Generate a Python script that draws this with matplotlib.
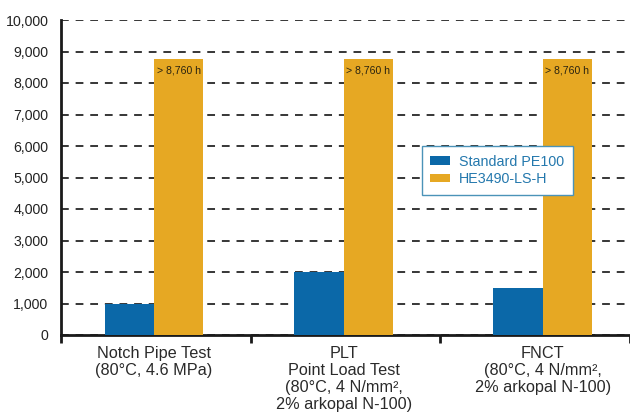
import matplotlib
matplotlib.use("Agg")
import matplotlib.pyplot as plt
import numpy as np
from matplotlib.ticker import FuncFormatter, FixedLocator

categories = ["Notch Pipe Test\n(80°C, 4.6 MPa)",
              "PLT\nPoint Load Test\n(80°C, 4 N/mm²,\n2% arkopal N-100)",
              "FNCT\n(80°C, 4 N/mm²,\n2% arkopal N-100)"]
series_names = ["Standard PE100", "HE3490-LS-H"]
standard_pe100 = [1000, 2000, 1500]
he3490 = [8760, 8760, 8760]
bar_labels = ["> 8,760 h", "> 8,760 h", "> 8,760 h"]
y_ticks = list(range(0, 10001, 1000))

plt.rcParams['font.family'] = ['Liberation Sans', 'DejaVu Sans']

blue = "#0b68a8"
orange = "#e6a823"

fig = plt.figure(figsize=(6.3, 4.16), dpi=100)
ax = fig.add_axes([61/630, 1-335/416, 569/630, 315/416])

x = np.array([-0.01, 0.99, 2.04])
w = 0.26
ax.bar(x - w/2, standard_pe100, width=w, color=blue, label=series_names[0], zorder=3)
ax.bar(x + w/2, he3490, width=w, color=orange, label=series_names[1], zorder=3)

for xi, v, lab in zip(x + w/2, he3490, bar_labels):
    ax.annotate(lab, (xi, v), xytext=(0, -8), textcoords="offset points",
                ha="center", va="center", fontsize=7.6, color="#2a2310", zorder=4)

ax.set_xlim(-0.5, 2.5)
ax.set_ylim(0, 10000)
ax.set_yticks(y_ticks)
ax.yaxis.set_major_formatter(FuncFormatter(lambda v, p: f"{int(v):,}"))
ax.tick_params(axis="y", length=0, pad=9, labelsize=10.2, labelcolor="#222222")
ax.yaxis.grid(True, color="#262626", linestyle=(0, (4.3, 3.8)), linewidth=1.3, zorder=1)
ax.set_axisbelow(True)

ax.set_xticks(x)
ax.set_xticklabels(categories, fontsize=11.7, color="#2a2a2a", linespacing=1.15, va="top")
ax.tick_params(axis="x", which="major", length=0, pad=8)
ax.xaxis.set_minor_locator(FixedLocator([-0.5, 0.5, 1.5, 2.5]))
ax.tick_params(axis="x", which="minor", length=6, width=2, color="#1a1a1a", direction="out")

for s in ["top", "right"]:
    ax.spines[s].set_visible(False)
ax.spines["left"].set_linewidth(2)
ax.spines["bottom"].set_linewidth(2)
ax.spines["left"].set_color("#1a1a1a")
ax.spines["bottom"].set_color("#1a1a1a")

leg = ax.legend(loc="upper left", bbox_to_anchor=(0.634, 0.6), borderaxespad=0,
                fancybox=False, fontsize=10.3, handlelength=1.4, handleheight=0.55,
                labelspacing=0.25, borderpad=0.6, handletextpad=0.6, framealpha=1)
leg.get_frame().set_edgecolor("#4b93b8")
leg.get_frame().set_linewidth(1.0)
for t in leg.get_texts():
    t.set_color("#2478ad")
leg.set_zorder(5)

fig.savefig("out.png", dpi=100)
